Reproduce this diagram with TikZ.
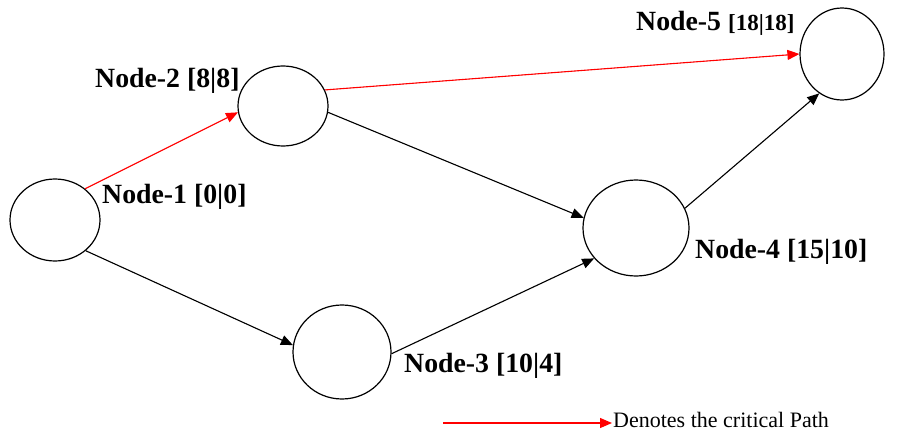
\documentclass[tikz,border=0pt]{standalone}
\usepackage{fontspec}
\setmainfont{Liberation Serif}
\usetikzlibrary{shapes.geometric,arrows.meta}
\begin{document}
\begin{tikzpicture}[x=1pt,y=-1pt,
  evt/.style={draw=black,ellipse,line width=1.2pt,inner sep=0pt},
  lbl/.style={anchor=base west,inner sep=0pt,font=\bfseries\fontsize{27.8}{31}\selectfont},
  conn/.style={line width=1.1pt,-{Triangle[length=12pt,width=10pt]}},
  crit/.style={conn,draw=red,fill=red},
  norm/.style={conn,draw=black,fill=black}]
\useasboundingbox (0,0) rectangle (904,433);
\node[evt,minimum width=90pt,minimum height=82pt] (n1) at (55,220) {};
\node[evt,minimum width=90pt,minimum height=80pt] (n2) at (283,106) {};
\node[evt,minimum width=98pt,minimum height=94pt] (n3) at (342,352) {};
\node[evt,minimum width=106pt,minimum height=96pt] (n4) at (636,228) {};
\node[evt,minimum width=84pt,minimum height=92pt] (n5) at (842,54) {};
\node[lbl] (l1) at (102,203) {Node-1 [0|0]};
\node[lbl] (l2) at (95,88) {Node-2 [8|8]};
\node[lbl] (l3) at (404,372) {Node-3 [10|4]};
\node[lbl] (l4) at (695,258) {Node-4 [15|10]};
\node[lbl] (l5) at (636,31) {Node-5 {\fontsize{23}{26}\selectfont[18|18]}};
\draw[crit] (n1.46) -- (n2.188);
\draw[crit] (n2.21) -- (n5.180);
\draw[norm] (n2.-8) -- (n4.169);
\draw[norm] (n1.315) -- (n3.172);
\draw[norm] (n3.358) -- (n4.216);
\draw[norm] (n4.22) -- (n5.240);
\coordinate (ls) at (443,423);
\coordinate (le) at (612,423);
\draw[crit] (ls) -- (le);
\node[anchor=base west,inner sep=0pt,font=\fontsize{22}{25}\selectfont] (lt) at (613,427) {Denotes the critical Path};
\end{tikzpicture}
\end{document}
